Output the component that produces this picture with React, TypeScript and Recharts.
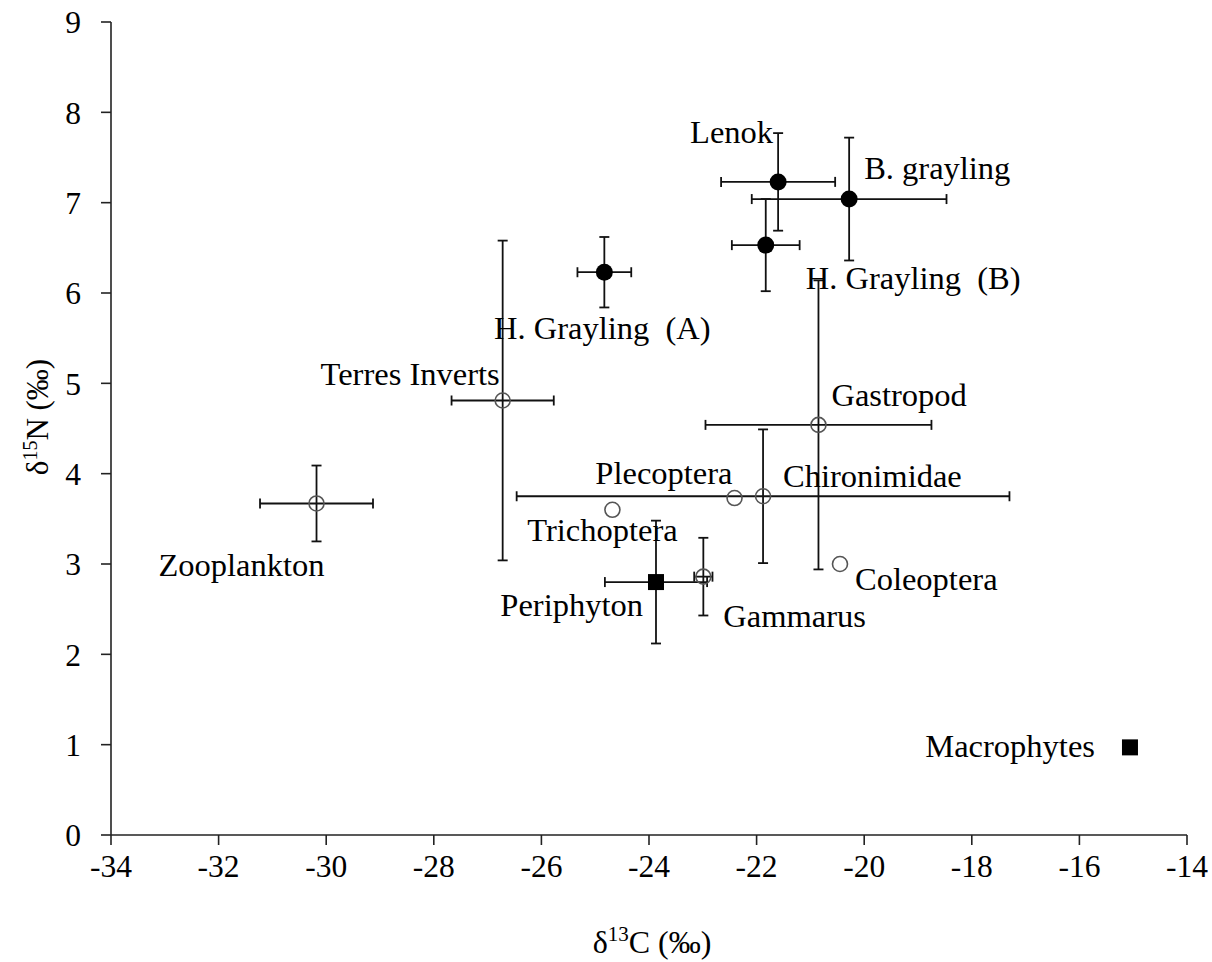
import { ErrorBar, Scatter, ScatterChart, XAxis, YAxis } from 'recharts'

// taxa
const taxa = [
  'Zooplankton',
  'Terres Inverts',
  'H. Grayling  (A)',
  'Lenok',
  'B. grayling',
  'H. Grayling  (B)',
  'Gastropod',
  'Chironimidae',
  'Plecoptera',
  'Trichoptera',
  'Gammarus',
  'Periphyton',
  'Coleoptera',
  'Macrophytes',
]
const kinds = ['invert', 'invert', 'fish', 'fish', 'fish', 'fish', 'invert', 'invert', 'invert', 'invert', 'invert', 'plant', 'invert', 'plant']
const d13C = [-30.18, -26.72, -24.83, -21.6, -20.28, -21.83, -20.85, -21.88, -22.41, -24.68, -22.99, -23.87, -20.45, -15.06]
const d15N = [3.67, 4.81, 6.23, 7.23, 7.04, 6.53, 4.54, 3.75, 3.73, 3.6, 2.86, 2.8, 3.0, 0.97]
// standard deviations (null = no error bar drawn)
const sdC = [1.05, 0.95, 0.5, 1.06, 1.81, 0.63, 2.1, 4.58, null, null, 0.17, 0.95, null, null]
const sdN = [0.42, 1.77, 0.39, 0.54, 0.68, 0.51, 1.6, 0.74, null, null, 0.43, 0.68, null, null]

const xTicks = [-34, -32, -30, -28, -26, -24, -22, -20, -18, -16, -14]
const yTicks = [0, 1, 2, 3, 4, 5, 6, 7, 8, 9]

// label placement relative to the marker: dx, dy (baseline), anchor
const labelAt: Record<string, [number, number, 'start' | 'middle' | 'end']> = {
  Zooplankton: [8, 73, 'end'],
  'Terres Inverts': [-3, -15, 'end'],
  'H. Grayling  (A)': [-2, 67, 'middle'],
  Lenok: [-5, -39, 'end'],
  'B. grayling': [15, -20, 'start'],
  'H. Grayling  (B)': [40, 44, 'start'],
  Gastropod: [13, -19, 'start'],
  Chironimidae: [20, -9, 'start'],
  Plecoptera: [-2, -14, 'end'],
  Trichoptera: [-10, 31, 'middle'],
  Gammarus: [20, 50, 'start'],
  Periphyton: [-13, 34, 'end'],
  Coleoptera: [15, 26, 'start'],
  Macrophytes: [-35, 10, 'end'],
}

const FONT = '"Liberation Serif", "Times New Roman", serif'
const W = 1212
const H = 962

interface Row {
  name: string
  kind: string
  x: number
  y: number
  ex: number | null
  ey: number | null
}

const rows: Row[] = taxa.map((name, i) => ({
  name,
  kind: kinds[i],
  x: d13C[i],
  y: d15N[i],
  ex: sdC[i],
  ey: sdN[i],
}))
const withErr = rows.filter((r) => r.ex != null)
const noErr = rows.filter((r) => r.ex == null)

function Marker(props: any) {
  const { cx, cy, payload } = props
  if (cx == null || cy == null) return null
  const [dx, dy, anchor] = labelAt[payload.name] ?? [10, 0, 'start']
  let mark
  if (payload.kind === 'fish') {
    mark = <circle cx={cx} cy={cy} r={8.5} fill="#000" />
  } else if (payload.kind === 'plant') {
    mark = <rect x={cx - 8} y={cy - 8} width={16} height={16} fill="#000" />
  } else {
    mark = <circle cx={cx} cy={cy} r={7.5} fill="none" stroke="#555" strokeWidth={1.6} />
  }
  return (
    <g>
      {mark}
      <text
        x={cx + dx}
        y={cy + dy}
        textAnchor={anchor}
        fontFamily={FONT}
        fontSize={32.5}
        fill="#000"
        style={{ whiteSpace: 'pre' }}
      >
        {payload.name}
      </text>
    </g>
  )
}

function XTick(props: any) {
  const { x, y, payload } = props
  return (
    <text x={x} y={y} dy="0.71em" textAnchor="middle" fontFamily={FONT} fontSize={31.5} fill="#000">
      {payload.value}
    </text>
  )
}

function YTick(props: any) {
  const { x, y, payload } = props
  return (
    <text x={x} y={y} dy="0.36em" textAnchor="end" fontFamily={FONT} fontSize={31.5} fill="#000">
      {payload.value}
    </text>
  )
}

function XTitle(props: any) {
  const vb = props.viewBox ?? { x: 111, width: 1076 }
  const cx = vb.x + vb.width / 2 + 3
  return (
    <text x={cx} y={953} textAnchor="middle" fontFamily={FONT} fontSize={32} fill="#000">
      δ
      <tspan dy={-12} fontSize={21}>
        13
      </tspan>
      <tspan dy={12}>C (‰)</tspan>
    </text>
  )
}

function YTitle() {
  return (
    <text
      x={0}
      y={0}
      transform="translate(48 417) rotate(-90)"
      textAnchor="middle"
      fontFamily={FONT}
      fontSize={31}
      fill="#000"
    >
      δ
      <tspan dy={-11} fontSize={20}>
        15
      </tspan>
      <tspan dy={11}>N (‰)</tspan>
    </text>
  )
}

export default function App() {
  return (
    <div style={{ position: 'absolute', left: 0, top: 0, width: W, height: H, background: '#fff', fontFamily: FONT }}>
      <ScatterChart width={W} height={H} margin={{ top: 22, right: 25, bottom: 67, left: 0 }}>
        <XAxis
          type="number"
          dataKey="x"
          domain={[-34, -14]}
          ticks={xTicks}
          allowDataOverflow
          height={60}
          stroke="#222"
          strokeWidth={1.6}
          tickSize={10}
          tickMargin={10}
          tick={<XTick />}
          tickLine={{ stroke: '#222', strokeWidth: 1.6 }}
          label={<XTitle />}
        />
        <YAxis
          type="number"
          dataKey="y"
          domain={[0, 9]}
          ticks={yTicks}
          allowDataOverflow
          width={111}
          stroke="#222"
          strokeWidth={1.6}
          tickSize={10}
          tickMargin={20}
          tick={<YTick />}
          tickLine={{ stroke: '#222', strokeWidth: 1.6 }}
          label={<YTitle />}
        />
        <Scatter data={withErr} shape={<Marker />} isAnimationActive={false}>
          <ErrorBar dataKey="ex" direction="x" width={5} stroke="#111" strokeWidth={1.8} isAnimationActive={false} />
          <ErrorBar dataKey="ey" direction="y" width={5} stroke="#111" strokeWidth={1.8} isAnimationActive={false} />
        </Scatter>
        <Scatter data={noErr} shape={<Marker />} isAnimationActive={false} />
      </ScatterChart>
    </div>
  )
}
